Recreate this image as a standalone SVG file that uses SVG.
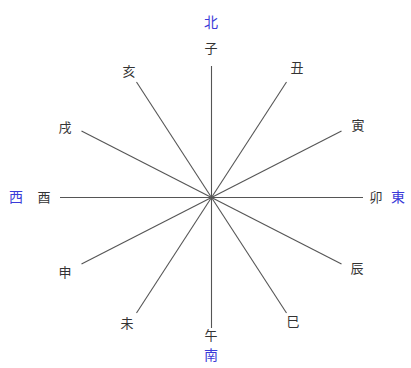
<svg xmlns="http://www.w3.org/2000/svg" width="411" height="368" viewBox="0 0 411 368">
<style>
.l{stroke:#555;stroke-width:1.1;fill:none}
.t{font-family:"Noto Sans CJK JP","Noto Sans CJK SC",sans-serif;font-size:13px;fill:#333;text-anchor:middle}
.d{font-family:"Noto Sans CJK JP","Noto Sans CJK SC",sans-serif;font-size:14px;fill:#3a3ad8;text-anchor:middle}
</style>
<rect width="411" height="368" fill="#fff"/>
<g id="connectors">
<line class="l" x1="211.5" y1="66" x2="211.5" y2="328"/>
<line class="l" x1="60" y1="197.5" x2="363" y2="197.5"/>
<line class="l" x1="136.5" y1="82" x2="286.5" y2="313"/>
<line class="l" x1="286.5" y1="82" x2="136.5" y2="313"/>
<line class="l" x1="341.5" y1="131" x2="81.5" y2="264"/>
<line class="l" x1="81.5" y1="131" x2="341.5" y2="264"/>
</g>
<g id="n-ne"><text class="d" x="211" y="27">北</text></g>
<g id="n-zi"><text class="t" x="211" y="53">子</text></g>
<g id="n-chou"><text class="t" x="297" y="72">丑</text></g>
<g id="n-yin"><text class="t" x="358" y="130">寅</text></g>
<g id="n-mao"><text class="t" x="376" y="202">卯</text></g>
<g id="n-east"><text class="d" x="398" y="202">東</text></g>
<g id="n-chen"><text class="t" x="357" y="273">辰</text></g>
<g id="n-si"><text class="t" x="293" y="326">巳</text></g>
<g id="n-wu"><text class="t" x="211" y="340">午</text></g>
<g id="n-south"><text class="d" x="211" y="360">南</text></g>
<g id="n-wei"><text class="t" x="127" y="328">未</text></g>
<g id="n-shen"><text class="t" x="65" y="277">申</text></g>
<g id="n-you"><text class="t" x="44" y="202">酉</text></g>
<g id="n-west"><text class="d" x="16" y="202">西</text></g>
<g id="n-xu"><text class="t" x="65" y="132">戌</text></g>
<g id="n-hai"><text class="t" x="129" y="76">亥</text></g>
</svg>
